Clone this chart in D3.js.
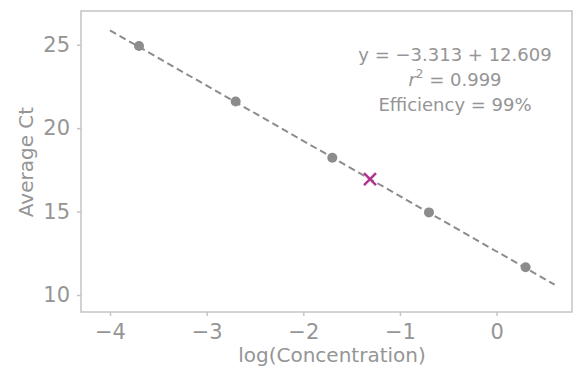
<!DOCTYPE html>
<html>
<head>
<style>
  body { margin: 0; background: #fff; }
  text { font-family: "DejaVu Sans", Verdana, sans-serif; fill: #959595; }
</style>
</head>
<body>
<div id="chart"></div>
<script src="https://d3js.org/d3.v7.min.js"></script>
<script>
// standard curve points
var logConc = [-3.7, -2.7, -1.7, -0.7, 0.3];
var avgCt = [24.92, 21.6, 18.23, 14.95, 11.66];
// unknown sample
var unknown = {x: -1.31, y: 16.95};
// fit
var slope = -3.313, intercept = 12.609;
var fitRange = [-4, 0.6];
var xTicks = [-4, -3, -2, -1, 0];
var yTicks = [10, 15, 20, 25];
var notes = ["y = \u22123.313 + 12.609", "r2", "Efficiency = 99%"];

var margin = {top: 11, right: 3, bottom: 60, left: 81},
    width = 575 - margin.left - margin.right,
    height = 372 - margin.top - margin.bottom;

var svg = d3.select("#chart").append("svg")
    .attr("width", 575).attr("height", 372)
  .append("g")
    .attr("transform", "translate(" + margin.left + "," + margin.top + ")");

var x = d3.scaleLinear().domain([-4.3, 0.78]).range([0, width]);
var y = d3.scaleLinear().domain([8.98, 27.02]).range([height, 0]);

// frame
svg.append("rect")
    .attr("width", width).attr("height", height)
    .attr("fill", "none").attr("stroke", "#c4c4c4").attr("stroke-width", 1.5);

var xAxis = svg.append("g")
    .attr("transform", "translate(0," + height + ")")
    .call(d3.axisBottom(x).tickValues(xTicks).tickSize(4).tickPadding(8)
      .tickFormat(function(d){ return d < 0 ? "\u2212" + Math.abs(d) : d; }));
var yAxis = svg.append("g")
    .call(d3.axisLeft(y).tickValues(yTicks).tickSize(4).tickPadding(7));

[xAxis, yAxis].forEach(function(a){
  a.select(".domain").remove();
  a.selectAll("line").attr("stroke", "#c4c4c4").attr("stroke-width", 1.5);
  a.selectAll("text").style("font-size", "21px").attr("fill", "#959595")
    .style("font-family", "'DejaVu Sans', Verdana, sans-serif");
});

// axis titles
svg.append("text")
    .attr("x", 251).attr("y", height + 50)
    .attr("text-anchor", "middle").style("font-size", "20px")
    .text("log(Concentration)");
svg.append("text")
    .attr("transform", "rotate(-90)")
    .attr("x", -151).attr("y", -48)
    .attr("text-anchor", "middle").style("font-size", "20px")
    .text("Average Ct");

// fitted line
svg.append("line")
    .attr("x1", x(fitRange[0])).attr("y1", y(slope * fitRange[0] + intercept))
    .attr("x2", x(fitRange[1])).attr("y2", y(slope * fitRange[1] + intercept))
    .attr("stroke", "#8c8c8c").attr("stroke-width", 2)
    .attr("stroke-dasharray", "7,4");

// points
svg.selectAll(".dot")
    .data(logConc)
    .enter().append("circle")
    .attr("class", "dot")
    .attr("cx", function(d){ return x(d); })
    .attr("cy", function(d, i){ return y(avgCt[i]); })
    .attr("r", 5)
    .attr("fill", "#8c8c8c");

// unknown sample cross
var cx = x(unknown.x), cy = y(unknown.y), s = 6;
svg.append("path")
    .attr("d", "M" + (cx - s) + "," + (cy - s) + "L" + (cx + s) + "," + (cy + s) +
               "M" + (cx - s) + "," + (cy + s) + "L" + (cx + s) + "," + (cy - s))
    .attr("stroke", "#b3338f").attr("stroke-width", 2.5).attr("fill", "none");

// annotation
var ax = 374, ay = 50, fs = "18px";
svg.append("text").attr("x", ax).attr("y", ay).attr("text-anchor", "middle")
    .style("font-size", fs).text(notes[0]);
var r2 = svg.append("text").attr("x", ax).attr("y", ay + 25).attr("text-anchor", "middle")
    .style("font-size", fs);
r2.append("tspan").style("font-style", "italic").text("r");
r2.append("tspan").attr("dy", -8).style("font-size", "12px").text("2");
r2.append("tspan").attr("dy", 8).text(" = 0.999");
svg.append("text").attr("x", ax).attr("y", ay + 50).attr("text-anchor", "middle")
    .style("font-size", fs).text(notes[2]);
</script>
</body>
</html>
